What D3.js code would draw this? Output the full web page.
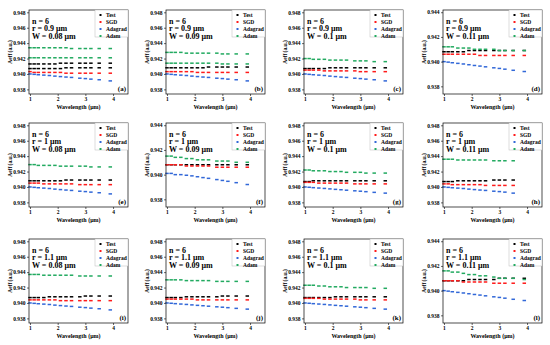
<!DOCTYPE html>
<html>
<head>
<meta charset="utf-8">
<script src="https://cdn.jsdelivr.net/npm/d3@7"></script>
<style>
  body { margin: 0; background: #fff; }
  svg text { font-family: "Liberation Serif", "Times New Roman", serif; font-weight: bold; }
</style>
</head>
<body>
<svg id="main-svg"></svg>
<script>
// shared x positions (μm)
var wavelengths = [1.0, 1.15, 1.3, 1.5, 1.7, 1.9, 2.1, 2.3, 2.5, 2.8, 3.0, 3.2, 3.5, 3.9];
var seriesNames = ["Test", "SGD", "Adagrad", "Adam"];
var seriesColors = ["#000000", "#ff1a1a", "#3268d8", "#22aa60"];
var panelLetters = ["a", "b", "c", "d", "e", "f", "g", "h", "i", "j", "k", "l"];
var radii = ["0.9", "0.9", "0.9", "0.9", "1", "1", "1", "1", "1.1", "1.1", "1.1", "1.1"];
var widths = ["0.08", "0.09", "0.1", "0.11", "0.08", "0.09", "0.1", "0.11", "0.08", "0.09", "0.1", "0.11"];
var yTicksWide = [0.938, 0.940, 0.942, 0.944, 0.946, 0.948];
var yTicksNarrow = [0.938, 0.940, 0.942, 0.944];
var xTicks = [1, 2, 3, 4];
var narrowPanels = ["d", "f", "l"];

var adagrad1 = [0.9400, 0.93995, 0.9399, 0.93985, 0.9398, 0.93972, 0.93966, 0.9396, 0.93955, 0.93945, 0.9394, 0.93933, 0.93925, 0.9391];
var adagrad2 = [0.9400, 0.93996, 0.93991, 0.93986, 0.93981, 0.93975, 0.93969, 0.93964, 0.93958, 0.9395, 0.93945, 0.93939, 0.9393, 0.9392];

// per panel: [test rows], [sgd rows], [adagrad rows], [adam rows]
var testA = [[0.9413, 0.9413, 0.9413, 0.9413, 0.9413, 0.9413, 0.9414, 0.9414, 0.9414, 0.9414, 0.9414, 0.9414, 0.9414, 0.9414],
             [0.9407, 0.9407, 0.9407, 0.9407, 0.9407, 0.9407, 0.9407, 0.9408, 0.9408, 0.9408, 0.9408, 0.9408, 0.9408, 0.9408]];
var sgdA = [[0.9403, 0.9402, 0.9402, 0.9402, 0.9402, 0.9402, 0.9402, 0.9401, 0.9401, 0.9401, 0.9401, 0.9401, 0.9401, 0.9401]];
var adamA = [[0.9434, 0.9434, 0.9434, 0.9434, 0.9434, 0.9434, 0.9434, 0.9434, 0.9433, 0.9433, 0.9433, 0.9433, 0.9433, 0.9433],
             [0.9421, 0.9421, 0.9421, 0.9421, 0.9421, 0.9421, 0.9421, 0.9421, 0.9421, 0.9421, 0.9421, 0.9421, 0.9421, 0.9421]];

var testB = [[0.9408, 0.9408, 0.9408, 0.9408, 0.9408, 0.9408, 0.9408, 0.9408, 0.9409, 0.9409, 0.9409, 0.9409, 0.9409, 0.9409]];
var sgdB = [[0.9403, 0.9403, 0.9403, 0.9403, 0.9403, 0.9403, 0.9402, 0.9402, 0.9402, 0.9402, 0.9402, 0.9402, 0.9402, 0.9402]];
var adamB = [[0.9428, 0.9428, 0.9428, 0.9428, 0.9427, 0.9427, 0.9427, 0.9427, 0.9427, 0.9427, 0.9426, 0.9426, 0.9426, 0.9426],
             [0.9414, 0.9414, 0.9414, 0.9414, 0.9414, 0.9414, 0.9414, 0.9414, 0.9414, 0.9414, 0.9413, 0.9413, 0.9413, 0.9413]];

var testC = [[0.9407, 0.9407, 0.9407, 0.9407, 0.9407, 0.9408, 0.9408, 0.9408, 0.9408, 0.9408, 0.9408, 0.9408, 0.9408, 0.9408]];
var sgdC = [[0.9405, 0.9405, 0.9405, 0.9405, 0.9404, 0.9404, 0.9404, 0.9404, 0.9404, 0.9404, 0.9403, 0.9403, 0.9403, 0.9403]];
var adamC = [[0.9420, 0.9420, 0.9419, 0.9419, 0.9419, 0.9418, 0.9418, 0.9418, 0.9418, 0.9417, 0.9417, 0.9417, 0.9416, 0.9416]];

var testD = [[0.9408, 0.9408, 0.9408, 0.9408, 0.9408, 0.9409, 0.9409, 0.9409, 0.9409, 0.9409, 0.9409, 0.9409, 0.9409, 0.9409]];
var sgdD = [[0.9406, 0.9406, 0.9406, 0.9406, 0.9406, 0.9406, 0.9406, 0.9405, 0.9405, 0.9405, 0.9405, 0.9405, 0.9405, 0.9405]];
var adamD = [[0.9412, 0.9412, 0.9412, 0.9411, 0.9411, 0.9411, 0.9410, 0.9410, 0.9410, 0.9410, 0.9409, 0.9409, 0.9409, 0.9409]];

var testE = [[0.9408, 0.9408, 0.9408, 0.9408, 0.9408, 0.9408, 0.9408, 0.9409, 0.9409, 0.9409, 0.9409, 0.9409, 0.9409, 0.9409]];
var sgdE = [[0.9405, 0.9405, 0.9405, 0.9404, 0.9404, 0.9404, 0.9404, 0.9404, 0.9404, 0.9403, 0.9403, 0.9403, 0.9403, 0.9403]];
var adamE = [[0.9429, 0.9429, 0.9428, 0.9428, 0.9428, 0.9428, 0.9427, 0.9427, 0.9427, 0.9427, 0.9427, 0.9426, 0.9426, 0.9426]];

var testF = [[0.9408, 0.9408, 0.9408, 0.9408, 0.9408, 0.9408, 0.9408, 0.9408, 0.9408, 0.9408, 0.9408, 0.9408, 0.9408, 0.9408]];
var sgdF = [[0.9408, 0.9408, 0.9408, 0.9408, 0.9407, 0.9407, 0.9407, 0.9407, 0.9407, 0.9406, 0.9406, 0.9406, 0.9406, 0.9406]];
var adagradF = [[0.9401, 0.9401, 0.9400, 0.94, 0.93995, 0.9399, 0.93983, 0.93976, 0.9397, 0.9396, 0.93953, 0.93946, 0.93935, 0.9392]];
var adamF = [[0.9415, 0.9415, 0.9414, 0.9414, 0.9413, 0.9413, 0.9412, 0.9412, 0.9412, 0.9411, 0.9411, 0.9411, 0.9410, 0.9410]];

var testG = [[0.9407, 0.9407, 0.9408, 0.9408, 0.9408, 0.9408, 0.9408, 0.9408, 0.9408, 0.9408, 0.9408, 0.9408, 0.9408, 0.9408]];
var sgdG = [[0.9406, 0.9406, 0.9406, 0.9405, 0.9405, 0.9405, 0.9405, 0.9405, 0.9405, 0.9404, 0.9404, 0.9404, 0.9404, 0.9404]];
var adamG = [[0.9422, 0.9422, 0.9421, 0.9421, 0.9421, 0.9420, 0.9420, 0.9420, 0.9419, 0.9419, 0.9419, 0.9418, 0.9418, 0.9418]];

var testH = [[0.9407, 0.9407, 0.9407, 0.9408, 0.9408, 0.9408, 0.9408, 0.9408, 0.9408, 0.9409, 0.9409, 0.9409, 0.9409, null]];
var sgdH = [[0.9404, 0.9404, 0.9403, 0.9403, 0.9403, 0.9403, 0.9403, 0.9403, 0.9402, 0.9402, 0.9402, 0.9402, 0.9402, null]];
var adagradH = [[0.9400, 0.93995, 0.9399, 0.93985, 0.9398, 0.93972, 0.93966, 0.9396, 0.93955, 0.93945, 0.9394, 0.93933, 0.9392, null]];
var adamH = [[0.9436, 0.9436, 0.9436, 0.9435, 0.9435, 0.9435, 0.9435, 0.9435, 0.9435, 0.9434, 0.9434, 0.9434, 0.9434, null]];

var testI = [[0.9407, 0.9407, 0.9407, 0.9407, 0.9408, 0.9408, 0.9408, 0.9408, 0.9408, 0.9408, 0.9409, 0.9409, 0.9409, 0.9409]];
var sgdI = [[0.9404, 0.9404, 0.9404, 0.9404, 0.9404, 0.9404, 0.9403, 0.9403, 0.9403, 0.9403, 0.9403, 0.9403, 0.9403, 0.9403]];
var adamI = [[0.9437, 0.9437, 0.9437, 0.9436, 0.9436, 0.9436, 0.9436, 0.9436, 0.9436, 0.9435, 0.9435, 0.9435, 0.9435, 0.9435]];

var testJ = [[0.9407, 0.9407, 0.9407, 0.9407, 0.9408, 0.9408, 0.9408, 0.9408, 0.9408, 0.9408, 0.9409, 0.9409, 0.9409, 0.9409]];
var sgdJ = [[0.9405, 0.9405, 0.9405, 0.9405, 0.9405, 0.9405, 0.9404, 0.9404, 0.9404, 0.9404, 0.9404, 0.9404, 0.9404, 0.9404]];
var adamJ = [[0.9430, 0.9430, 0.9430, 0.9430, 0.9429, 0.9429, 0.9429, 0.9429, 0.9429, 0.9428, 0.9428, 0.9428, 0.9428, 0.9428]];

var testK = [[0.9407, 0.9407, 0.9407, 0.9407, 0.9407, 0.9407, 0.9408, 0.9408, 0.9408, 0.9408, 0.9408, 0.9408, 0.9408, 0.9408]];
var sgdK = [[0.9406, 0.9406, 0.9406, 0.9406, 0.9405, 0.9405, 0.9405, 0.9405, 0.9405, 0.9405, 0.9404, 0.9404, 0.9404, 0.9404]];
var adamK = [[0.9423, 0.9423, 0.9423, 0.9422, 0.9422, 0.9421, 0.9421, 0.9421, 0.9420, 0.9420, 0.9420, 0.9420, 0.9419, 0.9419]];

var testL = [[0.9408, 0.9408, 0.9408, 0.9408, 0.9408, 0.9409, 0.9409, 0.9409, 0.9409, 0.9409, 0.9410, 0.9410, 0.9410, 0.9410]];
var sgdL = [[0.9408, 0.9408, 0.9408, 0.9408, 0.9407, 0.9407, 0.9407, 0.9407, 0.9407, 0.9406, 0.9406, 0.9406, 0.9406, 0.9406]];
var adamL = [[0.9416, 0.9416, 0.9415, 0.9415, 0.9414, 0.9413, 0.9413, 0.9412, 0.9412, 0.9411, 0.9410, 0.9410, 0.9410, 0.9409]];

var panelSeries = [
  [testA, sgdA, [adagrad1], adamA],
  [testB, sgdB, [adagrad1], adamB],
  [testC, sgdC, [adagrad1], adamC],
  [testD, sgdD, [adagrad2], adamD],
  [testE, sgdE, [adagrad1], adamE],
  [testF, sgdF, adagradF, adamF],
  [testG, sgdG, [adagrad2], adamG],
  [testH, sgdH, adagradH, adamH],
  [testI, sgdI, [adagrad1], adamI],
  [testJ, sgdJ, [adagrad2], adamJ],
  [testK, sgdK, [adagrad2], adamK],
  [testL, sgdL, [adagrad2], adamL]
];

var width = 550, height = 345,
  frameW = 99, frameH = 84,
  colLeft = [29, 166, 304, 443],
  rowTop = [10, 123, 239];

var svg = d3.select("#main-svg").attr("width", width).attr("height", height);

panelLetters.forEach(function (letter, i) {
  var col = i % 4, row = Math.floor(i / 4);
  var narrow = narrowPanels.indexOf(letter) >= 0;
  var g = svg.append("g").attr("transform", "translate(" + colLeft[col] + "," + rowTop[row] + ")");

  var x = d3.scaleLinear().domain([0.964, 4.54]).range([0, frameW]);
  var y = d3.scaleLinear().domain(narrow ? [0.93738, 0.94418] : [0.9374, 0.9483]).range([frameH, 0]);

  var yAxis = d3.axisLeft(y).tickValues(narrow ? yTicksNarrow : yTicksWide).tickFormat(d3.format(".3f")).tickSizeOuter(0).tickSize(2);
  var xAxis = d3.axisBottom(x).tickValues(xTicks).tickFormat(d3.format("d")).tickSizeOuter(0).tickSize(2);

  g.append("g").call(yAxis).call(function (s) {
    s.select(".domain").remove();
    s.selectAll("text").attr("font-size", 5.5).attr("x", -3.5);
  });
  g.append("g").attr("transform", "translate(0," + frameH + ")").call(xAxis).call(function (s) {
    s.select(".domain").remove();
    s.selectAll("text").attr("font-size", 5.5).attr("y", 3);
  });
  g.selectAll(".tick line").attr("stroke", "#000").attr("stroke-width", 0.6);

  // points
  panelSeries[i].forEach(function (rows, si) {
    rows.forEach(function (vals) {
      var pts = vals.map(function (v, k) { return [wavelengths[k], v]; }).filter(function (p) { return p[1] != null; });
      g.append("g").selectAll("rect").data(pts).enter().append("rect")
        .attr("x", function (d) { return x(d[0]) - 1.75; })
        .attr("y", function (d) { return y(d[1]) - 0.75; })
        .attr("width", 3.5).attr("height", 1.5)
        .attr("fill", seriesColors[si]);
    });
  });

  // frame
  g.append("rect").attr("width", frameW).attr("height", frameH)
    .attr("fill", "none").attr("stroke", "#000").attr("stroke-width", 0.7);

  // legend
  var lg = g.append("g").attr("transform", "translate(" + (frameW - 33) + ",0)");
  lg.append("rect").attr("width", 33).attr("height", 27).attr("fill", "#fff").attr("stroke", "#bbb").attr("stroke-width", 0.5);
  seriesNames.forEach(function (name, si) {
    var ly = 5 + si * 7;
    lg.append("rect").attr("x", 4.5).attr("y", ly - 1).attr("width", 2).attr("height", 2).attr("fill", seriesColors[si]);
    lg.append("text").attr("x", 11).attr("y", ly + 1.8).attr("font-size", 5.5).text(name);
  });

  // annotation
  var notes = ["n = 6", "r = " + radii[i] + " μm", "W = " + widths[i] + " μm"];
  notes.forEach(function (t, k) {
    g.append("text").attr("x", 3).attr("y", 13.5 + k * 7.6).attr("font-size", 8).text(t);
  });

  g.append("text").attr("x", frameW - 2).attr("y", frameH - 3).attr("text-anchor", "end")
    .attr("font-size", 7).text("(" + letter + ")");

  g.append("text").attr("transform", "translate(-17," + (frameH / 2) + ") rotate(-90)")
    .attr("text-anchor", "middle").attr("font-size", 5.5).text("Aeff (a.u.)");
  g.append("text").attr("x", frameW / 2).attr("y", frameH + 15).attr("text-anchor", "middle")
    .attr("font-size", 6).text("Wavelength (μm)");
});
</script>
</body>
</html>
